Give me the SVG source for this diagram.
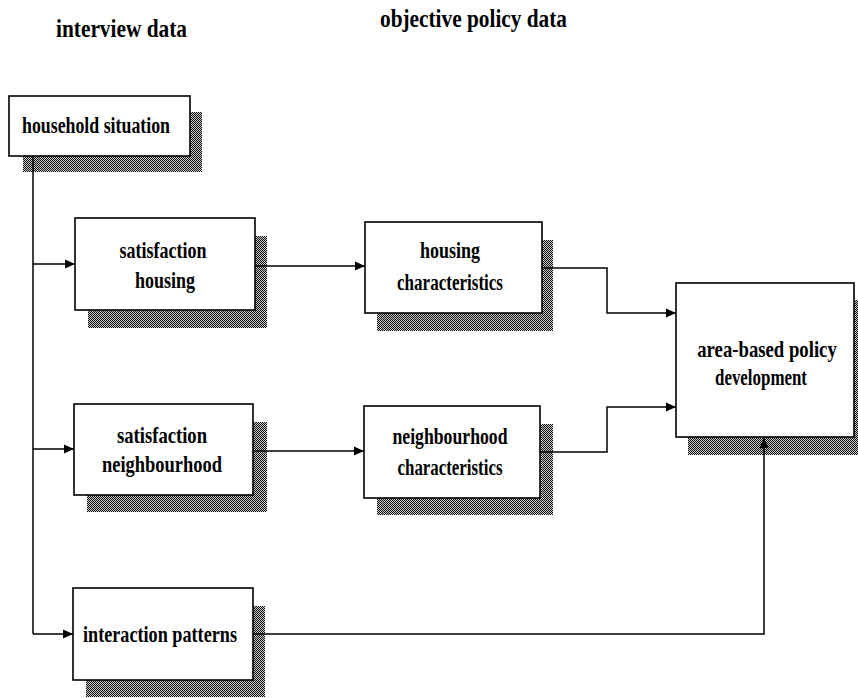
<svg xmlns="http://www.w3.org/2000/svg" width="858" height="698" viewBox="0 0 858 698">
<defs>
<pattern id="dots" width="2" height="2" patternUnits="userSpaceOnUse">
<rect width="2" height="2" fill="#c8c8c8"/>
<rect x="0" y="0" width="1" height="1" fill="#111"/>
<rect x="1" y="1" width="1" height="1" fill="#111"/>
</pattern>
<marker id="arr" viewBox="0 0 10 10" refX="10" refY="5" markerWidth="10" markerHeight="10" markerUnits="userSpaceOnUse" orient="auto">
<path d="M0,0.5 L10,5 L0,9.5 Z" fill="#000"/>
</marker>
</defs>
<style>
.box{fill:#fff;stroke:#000;stroke-width:1.6}
.sh{fill:url(#dots)}
.t{font-family:"Liberation Serif","Times New Roman",serif;font-weight:bold;font-size:24px;fill:#000;text-anchor:middle}
.h{font-size:26px}
.c{fill:none;stroke:#000;stroke-width:1.5}
</style>
<rect width="858" height="698" fill="#fff"/>
<text class="t h" x="121.5" y="37" textLength="131" lengthAdjust="spacingAndGlyphs">interview data</text>
<text class="t h" x="473.5" y="27" textLength="187" lengthAdjust="spacingAndGlyphs">objective policy data</text>

<g id="household">
<rect class="sh" x="23" y="112" width="179" height="60"/>
<rect class="box" x="9" y="96" width="181" height="60"/>
<text class="t" x="96" y="133" textLength="148" lengthAdjust="spacingAndGlyphs">household situation</text>
</g>

<g id="sat-housing">
<rect class="sh" x="88" y="236" width="179" height="92"/>
<rect class="box" x="75" y="218" width="180" height="92"/>
<text class="t" x="163" y="258" textLength="87" lengthAdjust="spacingAndGlyphs">satisfaction</text>
<text class="t" x="165" y="288" textLength="60" lengthAdjust="spacingAndGlyphs">housing</text>
</g>

<g id="housing-char">
<rect class="sh" x="377" y="240" width="176" height="91"/>
<rect class="box" x="365" y="222" width="177" height="91"/>
<text class="t" x="450" y="258" textLength="60" lengthAdjust="spacingAndGlyphs">housing</text>
<text class="t" x="450" y="290" textLength="106" lengthAdjust="spacingAndGlyphs">characteristics</text>
</g>

<g id="area-policy">
<rect class="sh" x="688" y="300" width="170" height="155"/>
<rect class="box" x="676" y="283" width="178" height="154"/>
<text class="t" transform="translate(767,357) scale(0.78,1)" x="0" y="0">area-based policy</text>
<text class="t" x="761" y="385" textLength="92" lengthAdjust="spacingAndGlyphs">development</text>
</g>

<g id="sat-neighbourhood">
<rect class="sh" x="87" y="422" width="180" height="90"/>
<rect class="box" x="74" y="404" width="179" height="91"/>
<text class="t" x="162" y="443" textLength="90" lengthAdjust="spacingAndGlyphs">satisfaction</text>
<text class="t" x="162" y="472" textLength="120" lengthAdjust="spacingAndGlyphs">neighbourhood</text>
</g>

<g id="neighbourhood-char">
<rect class="sh" x="377" y="424" width="176" height="91"/>
<rect class="box" x="364" y="406" width="176" height="92"/>
<text class="t" x="450" y="444" textLength="115" lengthAdjust="spacingAndGlyphs">neighbourhood</text>
<text class="t" x="450" y="475" textLength="105" lengthAdjust="spacingAndGlyphs">characteristics</text>
</g>

<g id="interaction">
<rect class="sh" x="86" y="606" width="179" height="91"/>
<rect class="box" x="73" y="588" width="180" height="92"/>
<text class="t" x="160" y="642" textLength="154" lengthAdjust="spacingAndGlyphs">interaction patterns</text>
</g>

<g id="connectors">
<path class="c" d="M33,156 V634"/>
<path class="c" d="M33,264 H75" marker-end="url(#arr)"/>
<path class="c" d="M33,449 H74" marker-end="url(#arr)"/>
<path class="c" d="M33,634 H73" marker-end="url(#arr)"/>
<path class="c" d="M255,266 H365" marker-end="url(#arr)"/>
<path class="c" d="M253,451 H364" marker-end="url(#arr)"/>
<path class="c" d="M542,268 H607 V313 H676" marker-end="url(#arr)"/>
<path class="c" d="M540,452 H607 V407 H676" marker-end="url(#arr)"/>
<path class="c" d="M253,634 H764 V438" marker-end="url(#arr)"/>
</g>
</svg>
